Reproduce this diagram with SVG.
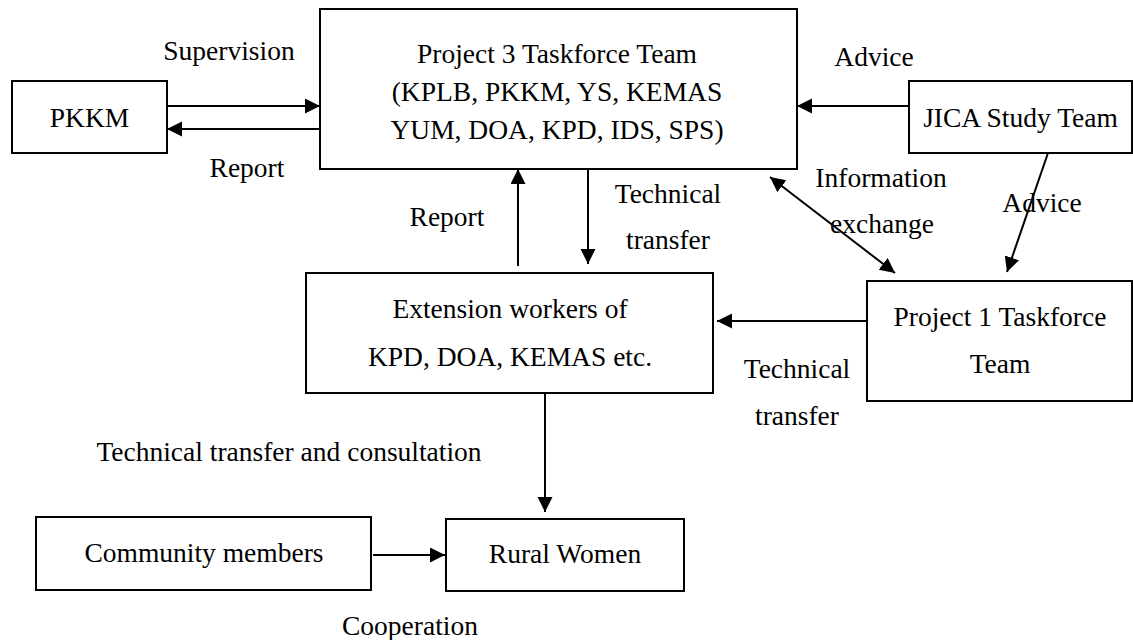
<svg xmlns="http://www.w3.org/2000/svg" width="1133" height="640" viewBox="0 0 1133 640">
<style>
.box{fill:#fff;stroke:#000;stroke-width:2}
.t{font-size:27.5px;fill:#000;text-anchor:middle}
.c{stroke:#000;stroke-width:2;fill:none}
.a{marker-end:url(#ah)}
.d{marker-start:url(#ah);marker-end:url(#ah)}
</style>
<defs>
<marker id="ah" markerUnits="userSpaceOnUse" markerWidth="16" markerHeight="16" refX="15" refY="7.5" orient="auto-start-reverse">
<path d="M0,0 L15,7.5 L0,15 z" fill="#000"/>
</marker>
</defs>
<rect width="1133" height="640" fill="#fff"/>
<g id="connectors">
<line class="c a" x1="167" y1="106" x2="320" y2="106"/>
<line class="c a" x1="320" y1="129" x2="167" y2="129"/>
<line class="c a" x1="909" y1="106" x2="797" y2="106"/>
<line class="c d" x1="770" y1="177" x2="895" y2="273"/>
<line class="c a" x1="1048" y1="153" x2="1007" y2="272"/>
<line class="c a" x1="518" y1="266" x2="518" y2="169"/>
<line class="c a" x1="588" y1="169" x2="588" y2="264"/>
<line class="c a" x1="867" y1="321" x2="717" y2="321"/>
<line class="c a" x1="545" y1="393" x2="545" y2="512"/>
<line class="c a" x1="373" y1="555" x2="445" y2="555"/>
</g>
<g font-family="Times New Roman, Liberation Serif, DejaVu Serif, serif">
<g id="labels">
<text class="t" x="229" y="60">Supervision</text>
<text class="t" x="247" y="177">Report</text>
<text class="t" x="874" y="66">Advice</text>
<text class="t" x="881" y="187">Information</text>
<text class="t" x="882" y="233">exchange</text>
<text class="t" x="1042" y="212">Advice</text>
<text class="t" x="447" y="226">Report</text>
<text class="t" x="668" y="203">Technical</text>
<text class="t" x="668" y="249">transfer</text>
<text class="t" x="797" y="378">Technical</text>
<text class="t" x="797" y="425">transfer</text>
<text class="t" x="289" y="461">Technical transfer and consultation</text>
<text class="t" x="410" y="635">Cooperation</text>
</g>
<g id="pkkm">
<rect class="box" x="12" y="81" width="155" height="72"/>
<text class="t" x="89.5" y="127">PKKM</text>
</g>
<g id="project3">
<rect class="box" x="320" y="9" width="477" height="160"/>
<text class="t" x="557" y="63">Project 3 Taskforce Team</text>
<text class="t" x="557" y="101">(KPLB, PKKM, YS, KEMAS</text>
<text class="t" x="557" y="139">YUM, DOA, KPD, IDS, SPS)</text>
</g>
<g id="jica">
<rect class="box" x="909" y="81" width="223" height="72"/>
<text class="t" x="1020.5" y="127">JICA Study Team</text>
</g>
<g id="extension">
<rect class="box" x="306" y="273" width="407" height="120"/>
<text class="t" x="510" y="318">Extension workers of</text>
<text class="t" x="510" y="366">KPD, DOA, KEMAS etc.</text>
</g>
<g id="project1">
<rect class="box" x="867" y="281" width="265" height="120"/>
<text class="t" x="1000" y="326">Project 1 Taskforce</text>
<text class="t" x="1000" y="373">Team</text>
</g>
<g id="community">
<rect class="box" x="36" y="517" width="335" height="73"/>
<text class="t" x="204" y="562">Community members</text>
</g>
<g id="rural">
<rect class="box" x="446" y="519" width="238" height="72"/>
<text class="t" x="565" y="563">Rural Women</text>
</g>
</g>
</svg>
